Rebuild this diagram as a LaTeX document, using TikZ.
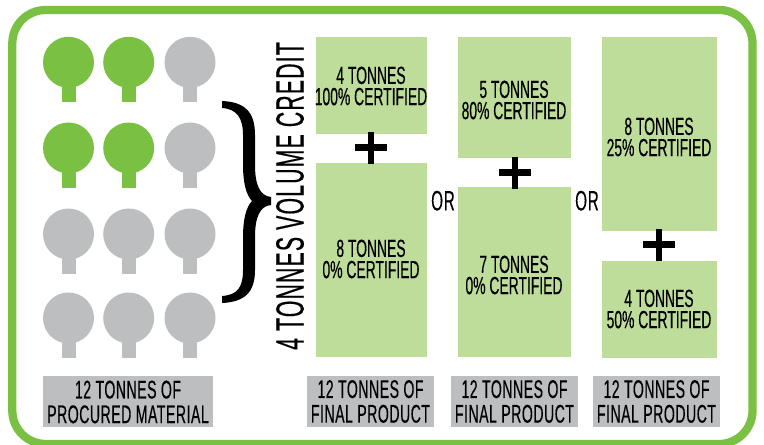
\documentclass[tikz,border=0pt]{standalone}
\usepackage{fontspec}
\setmainfont[FakeStretch=0.56,FakeBold=0.35]{Liberation Sans}
\newfontfamily\widefont[FakeStretch=0.54,LetterSpace=3,FakeBold=0.35]{Liberation Sans}
\newfontfamily\capfont[FakeStretch=0.55,LetterSpace=2,FakeBold=0.35]{Liberation Sans}
\definecolor{leaf}{HTML}{7AC143}
\definecolor{pale}{HTML}{BEDC9A}
\definecolor{ash}{HTML}{BCBEC0}
\newcommand{\tree}[3]{%
  \fill[#3] (#1,#2) circle (25.5);
  \fill[#3] (#1-7,#2+15) rectangle (#1+7,#2+40);
}
\newcommand{\plusmark}[2]{%
  \fill[black] (#1-16,#2-3.5) rectangle (#1+16,#2+3.5);
  \fill[black] (#1-3.2,#2-16) rectangle (#1+3.2,#2+16);
}
\tikzset{
  x=0.75pt,y=-0.75pt,
  body/.style={align=center,inner sep=0,font=\fontsize{18.6}{15.9}\selectfont,text=black},
  caption/.style={align=center,inner sep=0,font=\capfont\fontsize{19.2}{18.5}\selectfont,text=black},
  sep/.style={inner sep=0,font=\widefont\fontsize{21}{20}\selectfont,text=black},
  panel/.style={fill=pale,draw=none},
  capbox/.style={fill=ash,draw=none}
}
\begin{document}
\begin{tikzpicture}
\useasboundingbox (0,0) rectangle (764,445);
\fill[white] (0,0) rectangle (764,445);
\begin{scope}
\clip (0,0) rectangle (764,445);
\draw[leaf,line width=6.2pt,rounded corners=25pt] (12.3,10) rectangle (752.5,444);
\end{scope}
% trees
\tree{68.5}{62.3}{leaf}\tree{128.7}{62.3}{leaf}\tree{190}{62.3}{ash}
\tree{68.5}{148}{leaf}\tree{128.7}{148}{leaf}\tree{190}{148}{ash}
\tree{68.5}{234}{ash}\tree{128.7}{234}{ash}\tree{190}{234}{ash}
\tree{68.5}{318}{ash}\tree{128.7}{318}{ash}\tree{190}{318}{ash}
% brace
\fill[black] (222,101)
  .. controls (245,102) and (255,112) .. (255,135)
  -- (255,165)
  .. controls (255,185) and (260,196) .. (271,197)
  -- (271,205)
  .. controls (260,206) and (255,217) .. (255,237)
  -- (255,270)
  .. controls (255,292) and (245,302) .. (222,303)
  -- (222,296)
  .. controls (237,295) and (243,288) .. (243,270)
  -- (243,237)
  .. controls (243,220) and (246,207) .. (252,201)
  .. controls (246,195) and (243,182) .. (243,165)
  -- (243,135)
  .. controls (243,118) and (237,109) .. (222,108)
  -- cycle;
\node[rotate=90,inner sep=0,font=\widefont\fontsize{29.5}{30}\selectfont] (credit) at (290,196) {4 TONNES VOLUME CREDIT};
% panels
\fill[panel] (316,37) rectangle (427,134);
\fill[panel] (316,163) rectangle (427,357);
\fill[panel] (458,37) rectangle (571,158);
\fill[panel] (458,187) rectangle (571,357);
\fill[panel] (602,37) rectangle (717,231);
\fill[panel] (602,261) rectangle (717,358);
\node[body] (a1) at (371,86) {4 TONNES\\100\% CERTIFIED};
\node[body] (a2) at (371,259) {8 TONNES\\0\% CERTIFIED};
\node[body] (b1) at (514,100) {5 TONNES\\80\% CERTIFIED};
\node[body] (b2) at (514,275) {7 TONNES\\0\% CERTIFIED};
\node[body] (c1) at (659,137) {8 TONNES\\25\% CERTIFIED};
\node[body] (c2) at (659,309) {4 TONNES\\50\% CERTIFIED};
\plusmark{371}{148}
\plusmark{515}{173}
\plusmark{659}{245}
\node[sep] (or1) at (443,200.7) {OR};
\node[sep] (or2) at (587,200.7) {OR};
% captions
\fill[capbox] (43,376) rectangle (213,427);
\fill[capbox] (307,376) rectangle (434,427);
\fill[capbox] (451,376) rectangle (578,427);
\fill[capbox] (593,376) rectangle (720,427);
\node[caption] (l0) at (128,402) {12 TONNES OF\\PROCURED MATERIAL};
\node[caption] (l1) at (370.5,401.5) {12 TONNES OF\\FINAL PRODUCT};
\node[caption] (l2) at (514.5,401.5) {12 TONNES OF\\FINAL PRODUCT};
\node[caption] (l3) at (656.5,401.5) {12 TONNES OF\\FINAL PRODUCT};
\end{tikzpicture}
\end{document}
